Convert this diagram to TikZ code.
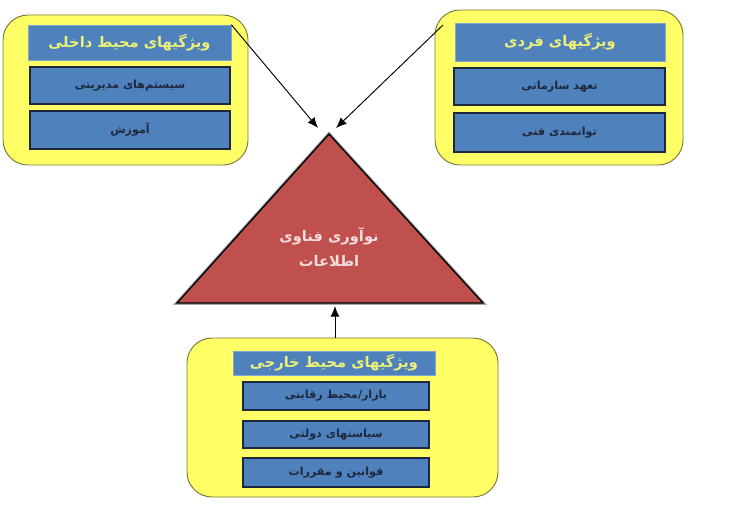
\documentclass[tikz,border=0pt]{standalone}
\usepackage{fontspec}
\usetikzlibrary{fit,arrows.meta}
\TeXXeTstate=1
\newfontfamily\arabicfont[Script=Arabic]{DejaVu Sans}
\definecolor{yel}{RGB}{255,255,102}
\definecolor{yelb}{RGB}{120,120,60}
\definecolor{blu}{RGB}{79,129,189}
\definecolor{blud}{RGB}{30,40,60}
\definecolor{hdtxt}{RGB}{235,240,120}
\definecolor{tri}{RGB}{192,80,77}
\definecolor{tritxt}{RGB}{245,220,220}
\begin{document}
\begin{tikzpicture}[x=0.03cm,y=-0.03cm,
  outerbox/.style={fit={#1},inner sep=0pt,draw=yelb,line width=0.8pt,fill=yel,rounded corners=0.75cm},
  hdbox/.style={fit={#1},inner sep=0pt,draw=blu!70!white,line width=0.5pt,fill=blu},
  itbox/.style={fit={#1},inner sep=0pt,draw=blud,line width=1pt,fill=blu},
  hdtext/.style={text=hdtxt,font=\arabicfont\bfseries\fontsize{12.5}{14}\selectfont},
  ittext/.style={text=blud,font=\arabicfont\bfseries\fontsize{9.5}{11}\selectfont},
  conn/.style={-{Latex[length=9pt,width=7.5pt]},line width=0.8pt,black}]
\useasboundingbox (0,0) rectangle (729,504);
% top left
\node[outerbox={(3,15) (248,165)}] (tl) {};
\node[hdbox={(28,25) (231,60)}, label={[hdtext]center:\beginR ویژگیهای محیط داخلی\endR}] (tlh) {};
\node[itbox={(30,67) (230,104)}, label={[ittext]center:\beginR سیستم‌های مدیریتی\endR}] (tl1) {};
\node[itbox={(30,111) (230,149)}, label={[ittext]center:\beginR آموزش\endR}] (tl2) {};
% top right
\node[outerbox={(435,10) (683,165)}] (tr) {};
\node[hdbox={(455,23) (665,61)}, label={[hdtext]center:\beginR ویژگیهای فردی\endR}] (trh) {};
\node[itbox={(454,68) (665,105)}, label={[ittext]center:\beginR تعهد سازمانی\endR}] (tr1) {};
\node[itbox={(454,113) (665,152)}, label={[ittext]center:\beginR توانمندی فنی\endR}] (tr2) {};
% bottom
\node[outerbox={(187,338) (498,497)}] (bt) {};
\node[hdbox={(233,351) (435,375)}, label={[hdtext]center:\beginR ویژگیهای محیط خارجی\endR}] (bth) {};
\node[itbox={(243,382) (429,410)}, label={[ittext]center:\beginR بازار/محیط رقابتی\endR}] (bt1) {};
\node[itbox={(243,421) (429,448)}, label={[ittext]center:\beginR سیاستهای دولتی\endR}] (bt2) {};
\node[itbox={(243,458) (429,487)}, label={[ittext]center:\beginR قوانین و مقررات\endR}] (bt3) {};
% triangle
\coordinate (apex) at (329,134);
\coordinate (bl) at (177,303);
\coordinate (br) at (483,303);
\draw[gray!70,line width=3pt,line join=miter] (apex) -- (bl) -- (br) -- cycle;
\draw[fill=tri,draw=black,line width=1.2pt,line join=miter] (apex) -- (bl) -- (br) -- cycle;
\node[text=tritxt,font=\arabicfont\bfseries\fontsize{12.5}{21}\selectfont,align=center] (tri) at (329,247) {\beginR نوآوری فناوی\endR\\\beginR اطلاعات\endR};
% arrows
\coordinate (a1) at (318,128);
\coordinate (a2) at (336,128);
\coordinate (a3) at (335,306);
\draw[conn] (tlh.north east) -- (a1);
\draw[conn] (443,25) coordinate (s2) -- (a2);
\draw[conn] (bt.north -| a3) -- (a3);
\end{tikzpicture}
\end{document}
